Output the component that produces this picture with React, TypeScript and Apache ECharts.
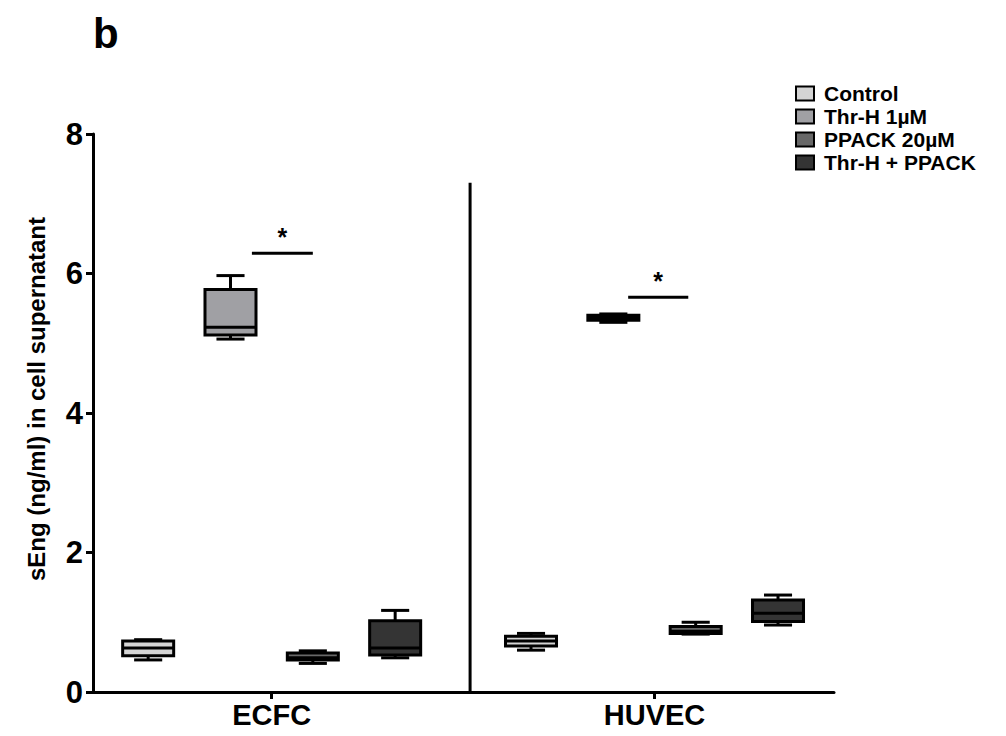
import React, { useEffect, useRef } from 'react';
import * as echarts from 'echarts';

// ---- data ----
const groups = ['ECFC', 'HUVEC'];
const treatments = ['Control', 'Thr-H 1µM', 'PPACK 20µM', 'Thr-H + PPACK'];
// each row: [min, q1, median, q3, max] for ECFC then HUVEC
const controlBox = [
  [0.46, 0.52, 0.63, 0.73, 0.75],
  [0.60, 0.66, 0.73, 0.80, 0.84],
];
const thrBox = [
  [5.06, 5.12, 5.23, 5.77, 5.97],
  [5.30, 5.33, 5.37, 5.40, 5.42],
];
const ppackBox = [
  [0.41, 0.46, 0.49, 0.56, 0.59],
  [0.83, 0.84, 0.87, 0.94, 1.0],
];
const thrPpackBox = [
  [0.49, 0.53, 0.63, 1.02, 1.17],
  [0.96, 1.01, 1.13, 1.32, 1.39],
];
const yTickLabels = ['0', '2', '4', '6', '8'];
// significance bars: [xStart, xEnd, y]
const sigBars = [
  [1.93, 2.67, 6.29],
  [6.5, 7.23, 5.66],
];
const sigLabels = ['*', '*'];
// group separator: [x, yFrom, yTo]
const separator = [[4.58, 0, 7.3]];

const allBoxes = [controlBox, thrBox, ppackBox, thrPpackBox];
const colors = ['#d4d4d4', '#a0a0a4', '#686868', '#343434'];
const groupStart = [0.67, 5.32];
const boxWidth = 0.656;
const groupCenters = groupStart.map((s) => s + 1.5);
const FONT = '"Liberation Sans", Arial, Helvetica, sans-serif';

export default function App() {
  const ref = useRef<HTMLDivElement>(null);
  useEffect(() => {
    document.body.style.margin = '0';
    if (!ref.current) return;
    const chart = echarts.init(ref.current, undefined, { renderer: 'svg' });

    const boxSeries = allBoxes.map((boxes, si) => ({
      type: 'custom',
      name: treatments[si],
      itemStyle: { color: colors[si], borderColor: '#000', borderWidth: 2 },
      data: boxes.map((b, g) => [g, ...b]),
      encode: { x: 0, y: [1, 2, 3, 4, 5] },
      renderItem: (params: any, api: any) => {
        const g = api.value(0);
        const x = groupStart[g] + si;
        const v = [1, 2, 3, 4, 5].map((k) => api.value(k));
        const p = v.map((val) => api.coord([x, val]));
        const cx = p[0][0];
        const half = api.size([boxWidth, 0])[0] / 2;
        const capHalf = half * 0.52;
        const ls = { stroke: '#000', lineWidth: 3 };
        return {
          type: 'group',
          children: [
            { type: 'line', shape: { x1: cx, y1: p[4][1], x2: cx, y2: p[3][1] }, style: ls },
            { type: 'line', shape: { x1: cx, y1: p[0][1], x2: cx, y2: p[1][1] }, style: ls },
            { type: 'line', shape: { x1: cx - capHalf, y1: p[4][1], x2: cx + capHalf, y2: p[4][1] }, style: ls },
            { type: 'line', shape: { x1: cx - capHalf, y1: p[0][1], x2: cx + capHalf, y2: p[0][1] }, style: ls },
            {
              type: 'rect',
              shape: { x: cx - half + 1.5, y: p[3][1], width: 2 * half - 3, height: p[1][1] - p[3][1] },
              style: { fill: colors[si], stroke: '#000', lineWidth: 3 },
            },
            { type: 'line', shape: { x1: cx - half + 1.5, y1: p[2][1], x2: cx + half - 1.5, y2: p[2][1] }, style: ls },
          ],
        };
      },
      z: 3,
    }));

    const option: any = {
      animation: false,
      textStyle: { fontFamily: FONT },
      grid: { left: 93, right: 172, top: 134, bottom: 44, containLabel: false, outerBoundsMode: 'none' },
      legend: {
        orient: 'vertical',
        left: 790,
        top: 78,
        itemWidth: 18,
        itemHeight: 14,
        itemGap: 2,
        textStyle: {
          fontFamily: FONT,
          fontWeight: 'bold',
          fontSize: 21,
          lineHeight: 21,
          color: '#000',
          padding: [0, 0, 0, 5],
        },
        data: treatments.map((t, i) => ({
          name: t,
          icon: 'rect',
          itemStyle: { color: colors[i], borderColor: '#000', borderWidth: 2 },
        })),
      },
      xAxis: {
        type: 'value',
        min: 0,
        max: 9,
        splitLine: { show: false },
        axisLine: { show: true, lineStyle: { color: '#000', width: 3 } },
        axisTick: { show: true, customValues: groupCenters, length: 7, lineStyle: { color: '#000', width: 3 } },
        axisLabel: {
          customValues: groupCenters,
          formatter: (val: number) => {
            const i = groupCenters.findIndex((c) => Math.abs(c - val) < 1e-6);
            return i >= 0 ? groups[i] : '';
          },
          margin: 8,
          color: '#000',
          fontWeight: 'bold',
          fontSize: 29,
          fontFamily: FONT,
        },
      },
      yAxis: {
        type: 'value',
        min: 0,
        max: 8,
        interval: 2,
        name: 'sEng (ng/ml) in cell supernatant',
        nameLocation: 'middle',
        nameGap: 45,
        nameTextStyle: {
          color: '#000',
          fontWeight: 'bold',
          fontSize: 24,
          fontFamily: FONT,
          padding: [0, 0, 0, 28],
        },
        splitLine: { show: false },
        axisLine: { show: true, lineStyle: { color: '#000', width: 3 } },
        axisTick: { show: true, length: 7, lineStyle: { color: '#000', width: 3 } },
        axisLabel: {
          formatter: (val: number) => yTickLabels[Math.round(val / 2)] ?? '',
          margin: 10,
          color: '#000',
          fontWeight: 'bold',
          fontSize: 31,
          fontFamily: FONT,
        },
      },
      graphic: [
        {
          type: 'text',
          left: 93,
          top: 12,
          style: { text: 'b', fontFamily: FONT, fontWeight: 'bold', fontSize: 42, fill: '#000' },
        },
      ],
      series: [
        ...boxSeries,
        {
          type: 'custom',
          name: 'separator',
          data: separator,
          silent: true,
          renderItem: (params: any, api: any) => {
            const a = api.coord([api.value(0), api.value(1)]);
            const b = api.coord([api.value(0), api.value(2)]);
            return {
              type: 'line',
              shape: { x1: a[0], y1: a[1], x2: b[0], y2: b[1] },
              style: { stroke: '#000', lineWidth: 3 },
            };
          },
          z: 2,
        },
        {
          type: 'custom',
          name: 'significance',
          data: sigBars,
          silent: true,
          renderItem: (params: any, api: any) => {
            const a = api.coord([api.value(0), api.value(2)]);
            const b = api.coord([api.value(1), api.value(2)]);
            return {
              type: 'group',
              children: [
                {
                  type: 'line',
                  shape: { x1: a[0], y1: a[1], x2: b[0], y2: b[1] },
                  style: { stroke: '#000', lineWidth: 3 },
                },
                {
                  type: 'text',
                  x: (a[0] + b[0]) / 2,
                  y: a[1] - 4,
                  style: {
                    text: sigLabels[params.dataIndex],
                    fontFamily: FONT,
                    fontWeight: 'bold',
                    fontSize: 25,
                    fill: '#000',
                    align: 'center',
                    verticalAlign: 'bottom',
                  },
                },
              ],
            };
          },
          z: 4,
        },
      ],
    };
    chart.setOption(option);
    return () => chart.dispose();
  }, []);
  return <div ref={ref} style={{ width: 1006, height: 736 }} />;
}
